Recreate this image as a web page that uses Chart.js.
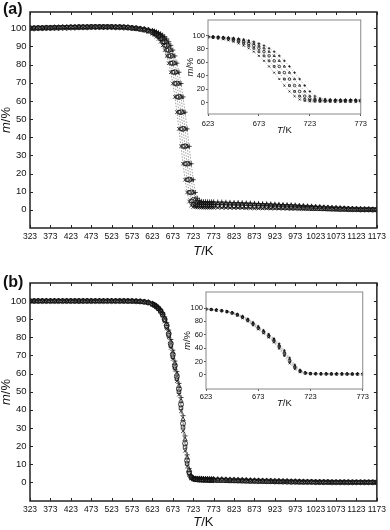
<!DOCTYPE html>
<html>
<head>
<meta charset="utf-8">
<script src="https://cdn.jsdelivr.net/npm/chart.js@4.4.1/dist/chart.umd.min.js"></script>
<style>
  body { margin: 0; background: #fff; }
  #page { position: relative; width: 390px; height: 530px; overflow: hidden; font-family: "Liberation Sans", Arial, sans-serif; }
  .box { position: absolute; }
  .tag { position: absolute; left: 3px; font-weight: bold; font-size: 16px; line-height: 16px; color: #111; }
</style>
</head>
<body>
<div id="page">
  <canvas id="mainA" class="box" style="left:0;top:0" width="390" height="265"></canvas>
  <canvas id="insetA" class="box" style="left:180px;top:10px" width="190" height="130"></canvas>
  <div class="tag" style="top:1px">(a)</div>
  <canvas id="mainB" class="box" style="left:0;top:265px" width="390" height="265"></canvas>
  <canvas id="insetB" class="box" style="left:175px;top:282px" width="195" height="128"></canvas>
  <div class="tag" style="top:274px">(b)</div>
</div>
<script>
// temperature grid, K (10 K steps, 5 K through the mass-loss step)
const temps = [323,333,343,353,363,373,383,393,403,413,423,433,443,453,463,473,483,493,503,513,523,533,543,553,563,573,583,593,603,613,623,
  628,633,638,643,648,653,658,663,668,673,678,683,688,693,698,703,708,713,718,723,728,733,738,743,748,753,758,763,768,773,
  783,793,803,813,823,833,843,853,863,873,883,893,903,913,923,933,943,953,963,973,983,993,1003,1013,1023,1033,1043,1053,1063,1073,1083,1093,1103,1113,1123,1133,1143,1153,1163,1173];

// panel (a), m/% for the five runs
const a1 = [99.9,99.9,100.0,100.0,100.1,100.1,100.2,100.2,100.3,100.3,100.4,100.4,100.5,100.5,100.5,100.6,100.6,100.6,100.6,100.6,100.6,100.5,100.5,100.4,100.2,100.0,99.7,99.3,98.8,98.1,97.0,
  96.3,95.4,94.2,92.6,90.6,88.0,84.8,80.8,75.8,69.6,62.2,53.8,44.6,35.0,25.4,16.6,9.6,4.6,2.4,1.6,1.4,1.3,1.3,1.3,1.2,1.2,1.2,1.2,1.2,1.2,
  1.2,1.1,1.1,1.1,1.0,1.0,1.0,0.9,0.9,0.9,0.8,0.8,0.8,0.7,0.7,0.7,0.6,0.6,0.5,0.5,0.5,0.4,0.4,0.3,0.3,0.3,0.2,0.2,0.2,0.1,0.1,0.1,0.1,0,0,0,0,0,0,0];
const a2 = [100.2,100.2,100.3,100.3,100.4,100.4,100.5,100.5,100.6,100.6,100.7,100.7,100.8,100.8,100.8,100.9,100.9,100.9,100.9,100.9,100.9,100.8,100.8,100.7,100.4,100.1,99.9,99.5,99.1,98.5,97.6,
  97.0,96.3,95.4,94.2,92.6,90.6,88.0,84.8,80.8,75.8,69.6,62.2,53.8,44.6,35.0,25.4,16.6,9.6,4.8,3.0,2.4,2.2,2.1,2.1,2.0,2.0,2.0,2.0,2.0,2.0,
  2.0,1.9,1.9,1.8,1.8,1.7,1.7,1.6,1.6,1.5,1.5,1.4,1.4,1.3,1.3,1.2,1.2,1.1,1.0,1.0,0.9,0.9,0.8,0.7,0.7,0.6,0.6,0.5,0.4,0.4,0.3,0.3,0.2,0.2,0.2,0.1,0.1,0.1,0.1,0.1];
const a3 = [100.0,100.0,100.1,100.1,100.2,100.2,100.3,100.3,100.4,100.4,100.5,100.5,100.6,100.6,100.6,100.7,100.7,100.7,100.7,100.7,100.7,100.6,100.6,100.5,100.4,100.2,100.0,99.7,99.3,98.8,98.1,
  97.6,97.0,96.3,95.4,94.2,92.6,90.6,88.0,84.8,80.8,75.8,69.6,62.2,53.8,44.6,35.0,25.4,16.6,9.6,5.4,3.6,3.1,2.9,2.9,2.8,2.8,2.8,2.8,2.8,2.8,
  2.7,2.7,2.6,2.6,2.5,2.5,2.4,2.4,2.3,2.3,2.2,2.1,2.1,2.0,2.0,1.9,1.8,1.7,1.7,1.6,1.5,1.4,1.3,1.2,1.1,1.0,0.9,0.8,0.7,0.6,0.5,0.5,0.4,0.3,0.3,0.2,0.2,0.2,0.1,0.1];
const a4 = [100.3,100.3,100.4,100.4,100.5,100.5,100.6,100.6,100.7,100.7,100.8,100.8,100.9,100.9,100.9,101.0,101.0,101.0,101.0,101.0,101.0,100.9,100.9,100.8,100.7,100.4,100.1,99.9,99.5,99.1,98.5,
  98.1,97.6,97.0,96.3,95.4,94.2,92.6,90.6,88.0,84.8,80.8,75.8,69.6,62.2,53.8,44.6,35.0,25.4,16.6,9.6,6.0,4.5,3.9,3.7,3.7,3.6,3.6,3.6,3.6,3.6,
  3.5,3.5,3.4,3.4,3.3,3.3,3.2,3.1,3.1,3.0,2.9,2.8,2.8,2.7,2.6,2.5,2.4,2.3,2.2,2.1,2.0,1.9,1.8,1.7,1.5,1.4,1.3,1.2,1.1,1.0,0.9,0.8,0.7,0.6,0.5,0.4,0.3,0.3,0.2,0.2];
const a5 = [99.8,99.8,99.9,99.9,100.0,100.0,100.1,100.1,100.2,100.2,100.3,100.3,100.4,100.4,100.4,100.5,100.5,100.5,100.5,100.5,100.5,100.4,100.4,100.3,100.3,100.3,100.2,100.0,99.7,99.3,98.8,
  98.5,98.1,97.6,97.0,96.3,95.4,94.2,92.6,90.6,88.0,84.8,80.8,75.8,69.6,62.2,53.8,44.6,35.0,25.4,16.6,9.6,6.4,5.2,4.7,4.5,4.5,4.4,4.4,4.4,4.4,
  4.3,4.3,4.2,4.1,4.0,4.0,3.9,3.8,3.7,3.6,3.5,3.4,3.3,3.2,3.1,3.0,2.9,2.8,2.7,2.6,2.4,2.3,2.1,2.0,1.8,1.7,1.5,1.4,1.2,1.1,1.0,0.9,0.8,0.7,0.6,0.5,0.4,0.3,0.3,0.2];

// panel (b)
const b1 = [99.9,99.9,99.9,99.9,99.9,99.9,99.9,99.9,99.9,99.9,99.9,99.9,99.9,99.9,99.9,99.9,99.9,99.9,99.9,99.9,99.9,99.9,99.9,99.9,99.9,99.9,99.8,99.6,99.4,98.9,98.1,
  97.5,96.6,95.5,94.1,91.9,88.7,84.9,80.0,74.2,68.1,62.1,55.9,48.4,39.2,28.2,17.4,8.8,4.0,2.2,1.7,1.3,1.1,1.0,1.0,0.9,0.9,0.9,0.8,0.8,0.8,
  0.8,0.7,0.7,0.6,0.6,0.5,0.5,0.4,0.4,0.3,0.3,0.3,0.2,0.2,0.2,0.1,0.1,0.1,0.1,0,0,0,0,0,0,0,0,0,0,0,0,0,0,0,0,0,0,0,0,0];
const b2 = [100.1,100.1,100.1,100.1,100.1,100.1,100.1,100.1,100.1,100.1,100.1,100.1,100.1,100.1,100.1,100.1,100.1,100.1,100.1,100.1,100.1,100.1,100.1,100.1,100.0,100.0,99.9,99.7,99.5,99.1,98.3,
  97.7,96.8,95.8,94.4,92.3,89.4,85.7,81.0,75.4,69.3,63.3,57.2,50.0,41.1,30.4,19.5,10.4,4.9,2.6,1.9,1.6,1.4,1.3,1.3,1.2,1.2,1.2,1.1,1.1,1.1,
  1.0,1.0,0.9,0.9,0.8,0.8,0.7,0.7,0.6,0.6,0.5,0.5,0.4,0.4,0.3,0.3,0.3,0.2,0.2,0.2,0.1,0.1,0.1,0.1,0,0,0,0,0,0,0,0,0,0,0,0,0,0,0,0];
const b3 = [100.0,100.0,100.0,100.0,100.0,100.0,100.0,100.0,100.0,100.0,100.0,100.0,100.0,100.0,100.0,100.0,100.0,100.0,100.0,100.0,100.0,100.0,100.0,100.0,100.0,100.0,99.9,99.8,99.6,99.2,98.4,
  97.8,97.0,96.0,94.7,92.8,90.0,86.5,82.0,76.5,70.5,64.5,58.5,51.5,43.0,32.5,21.5,12.0,5.8,3.0,2.0,1.8,1.7,1.6,1.6,1.5,1.5,1.5,1.4,1.4,1.4,
  1.3,1.3,1.2,1.1,1.1,1.0,1.0,0.9,0.8,0.8,0.7,0.7,0.6,0.6,0.5,0.5,0.4,0.4,0.3,0.3,0.3,0.2,0.2,0.2,0.1,0.1,0.1,0.1,0,0,0,0,0,0,0,0,0,0,0,0];
const b4 = [100.2,100.2,100.2,100.2,100.2,100.2,100.2,100.2,100.2,100.2,100.2,100.2,100.2,100.2,100.2,100.2,100.2,100.2,100.2,100.2,100.2,100.2,100.2,100.2,100.2,100.1,100.0,99.9,99.7,99.3,98.6,
  97.9,97.2,96.2,95.0,93.3,90.6,87.3,83.0,77.7,71.7,65.7,59.8,53.1,44.9,34.7,23.6,13.6,6.7,3.4,2.1,2.0,1.9,1.9,1.8,1.8,1.8,1.7,1.7,1.7,1.7,
  1.6,1.6,1.5,1.4,1.4,1.3,1.2,1.2,1.1,1.0,1.0,0.9,0.9,0.8,0.7,0.7,0.6,0.6,0.5,0.5,0.4,0.4,0.3,0.3,0.3,0.2,0.2,0.2,0.1,0.1,0.1,0.1,0.1,0,0,0,0,0,0,0];
const b5 = [100.3,100.3,100.3,100.3,100.3,100.3,100.3,100.3,100.3,100.3,100.3,100.3,100.3,100.3,100.3,100.3,100.3,100.3,100.3,100.3,100.3,100.3,100.3,100.3,100.3,100.2,100.1,100.0,99.8,99.5,98.8,
  98.1,97.4,96.5,95.3,93.7,91.3,88.1,84.0,78.8,72.9,66.9,61.1,54.6,46.8,36.8,25.6,15.2,7.6,3.8,2.3,2.3,2.2,2.2,2.2,2.1,2.1,2.1,2.0,2.0,2.0,
  1.9,1.9,1.8,1.7,1.6,1.6,1.5,1.4,1.3,1.3,1.2,1.1,1.1,1.0,0.9,0.9,0.8,0.8,0.7,0.7,0.6,0.6,0.5,0.5,0.4,0.4,0.3,0.3,0.3,0.2,0.2,0.2,0.2,0.1,0.1,0.1,0.1,0.1,0,0];

// tick labels
const mainXTicks = [323,373,423,473,523,573,623,673,723,773,823,873,923,973,1023,1073,1123,1173];
const mainYTicks = [0,10,20,30,40,50,60,70,80,90,100];
const insetXTicks = [623,673,723,773];
const insetYTicks = [0,20,40,60,80,100];

const marks = ['crossRot', 'rect', 'circle', 'triangle', 'cross'];
const family = '"Liberation Sans", Arial, sans-serif';

function drawMixed(ctx, parts, cx, cy, size) {
  // parts: [text, italic]
  ctx.textBaseline = 'middle';
  ctx.textAlign = 'left';
  var fonts = parts.map(function (p) { return (p[1] ? 'italic ' : '') + size + 'px ' + family; });
  var w = 0;
  parts.forEach(function (p, i) { ctx.font = fonts[i]; w += ctx.measureText(p[0]).width; });
  var x = cx - w / 2;
  parts.forEach(function (p, i) { ctx.font = fonts[i]; ctx.fillText(p[0], x, cy); x += ctx.measureText(p[0]).width; });
}

// box around the plot, inward tick marks and the axis titles
const frame = {
    id: 'frame',
    afterDraw: function (chart, args, o) {
        var ctx = chart.ctx, a = chart.chartArea, sx = chart.scales.x, sy = chart.scales.y;
        ctx.save();
        ctx.strokeStyle = o.color;
        ctx.lineWidth = o.width;
        ctx.strokeRect(a.left, a.top, a.right - a.left, a.bottom - a.top);
        if (o.tick) {
            ctx.lineWidth = 1;
            ctx.beginPath();
            sx.ticks.forEach(function (t) {
                var px = Math.round(sx.getPixelForValue(t.value)) + 0.5;
                ctx.moveTo(px, a.bottom); ctx.lineTo(px, a.bottom - o.tick);
                ctx.moveTo(px, a.top); ctx.lineTo(px, a.top + o.tick);
            });
            sy.ticks.forEach(function (t) {
                var py = Math.round(sy.getPixelForValue(t.value)) + 0.5;
                ctx.moveTo(a.left, py); ctx.lineTo(a.left + o.tick, py);
                ctx.moveTo(a.right, py); ctx.lineTo(a.right - o.tick, py);
            });
            ctx.stroke();
        }
        ctx.fillStyle = '#111';
        drawMixed(ctx, [['T', true], ['/K', false]], (a.left + a.right) / 2, a.bottom + o.xOff, o.titleSize);
        ctx.translate(o.yX, (a.top + a.bottom) / 2);
        ctx.rotate(-Math.PI / 2);
        drawMixed(ctx, [['m', true], ['/%', false]], 0, 0, o.titleSize);
        ctx.restore();
    }
};

function makeChart(id, series, o) {
    var tickGrid = o.inset
        ? { drawOnChartArea: false, drawTicks: true, tickLength: 2, color: '#555', lineWidth: 1 }
        : { display: false, drawTicks: false };
    return new Chart(document.getElementById(id), {
        type: 'line',
        data: {
            datasets: series.map(function (ys, i) {
                return {
                    data: temps.map(function (t, j) { return { x: t, y: ys[j] }; }),
                    pointStyle: marks[i],
                    pointRadius: o.r,
                    pointBorderWidth: 0.8,
                    pointBorderColor: '#111',
                    pointBackgroundColor: 'rgba(0,0,0,0)',
                    borderColor: o.lineColor,
                    borderWidth: 0.8,
                    borderDash: [1.5, 1.5],
                    tension: 0
                };
            })
        },
        options: {
            responsive: false,
            animation: false,
            events: [],
            layout: { padding: { top: o.top, right: o.right, left: 0, bottom: 0 } },
            plugins: {
                legend: { display: false },
                tooltip: { enabled: false },
                frame: { color: o.frameColor, width: o.frameWidth, tick: o.tick, xOff: o.xOff, yX: o.yX, titleSize: o.titleSize }
            },
            scales: {
                x: {
                    type: 'linear', min: o.xmin, max: o.xmax,
                    afterBuildTicks: function (s) { s.ticks = o.xt.map(function (v) { return { value: v }; }); },
                    afterFit: function (s) { s.height = o.xh; },
                    grid: tickGrid,
                    border: { display: false },
                    ticks: {
                        autoSkip: false, maxRotation: 0, padding: o.xpad, color: '#111',
                        font: { size: o.xfs, family: family },
                        callback: function (v) { return String(v); }
                    }
                },
                y: {
                    min: o.ymin, max: o.ymax,
                    afterBuildTicks: function (s) { s.ticks = o.yt.map(function (v) { return { value: v }; }); },
                    afterFit: function (s) { s.width = o.yw; },
                    grid: tickGrid,
                    border: { display: false },
                    ticks: {
                        padding: o.ypad, color: '#111',
                        font: { size: o.yfs, family: family },
                        callback: function (v) { return String(v); }
                    }
                }
            }
        },
        plugins: [frame]
    });
}

var mainOpts = {
    inset: false, r: 2.5, lineColor: '#888', frameColor: '#222', frameWidth: 1.5, tick: 3,
    xmin: 323, xmax: 1173, xt: mainXTicks, yt: mainYTicks,
    right: 11, yw: 30, xpad: 4, ypad: 3.5, xfs: 8.5, yfs: 9.5, yX: 6, titleSize: 13
};
var insetOpts = {
    inset: true, r: 1.3, lineColor: '#aaa', frameColor: '#888', frameWidth: 1, tick: 0,
    xmin: 623, xmax: 773, xt: insetXTicks, yt: insetYTicks,
    right: 6, ypad: 1, xfs: 7.5, yfs: 7.5, titleSize: 9.5
};

makeChart('mainA', [a1, a2, a3, a4, a5], Object.assign({}, mainOpts, { top: 12, xh: 37, xOff: 23, ymin: -10, ymax: 109 }));
makeChart('mainB', [b1, b2, b3, b4, b5], Object.assign({}, mainOpts, { top: 18, xh: 29, xOff: 21, ymin: -10.3, ymax: 110 }));
makeChart('insetA', [a1, a2, a3, a4, a5], Object.assign({}, insetOpts, { top: 10, yw: 28, xh: 26, xpad: 3, xOff: 16, yX: 10, ymin: -17, ymax: 123 }));
makeChart('insetB', [b1, b2, b3, b4, b5], Object.assign({}, insetOpts, { top: 10, yw: 31, xh: 21, xpad: 1, xOff: 14.5, yX: 12.5, ymin: -21, ymax: 124 }));
</script>
</body>
</html>
